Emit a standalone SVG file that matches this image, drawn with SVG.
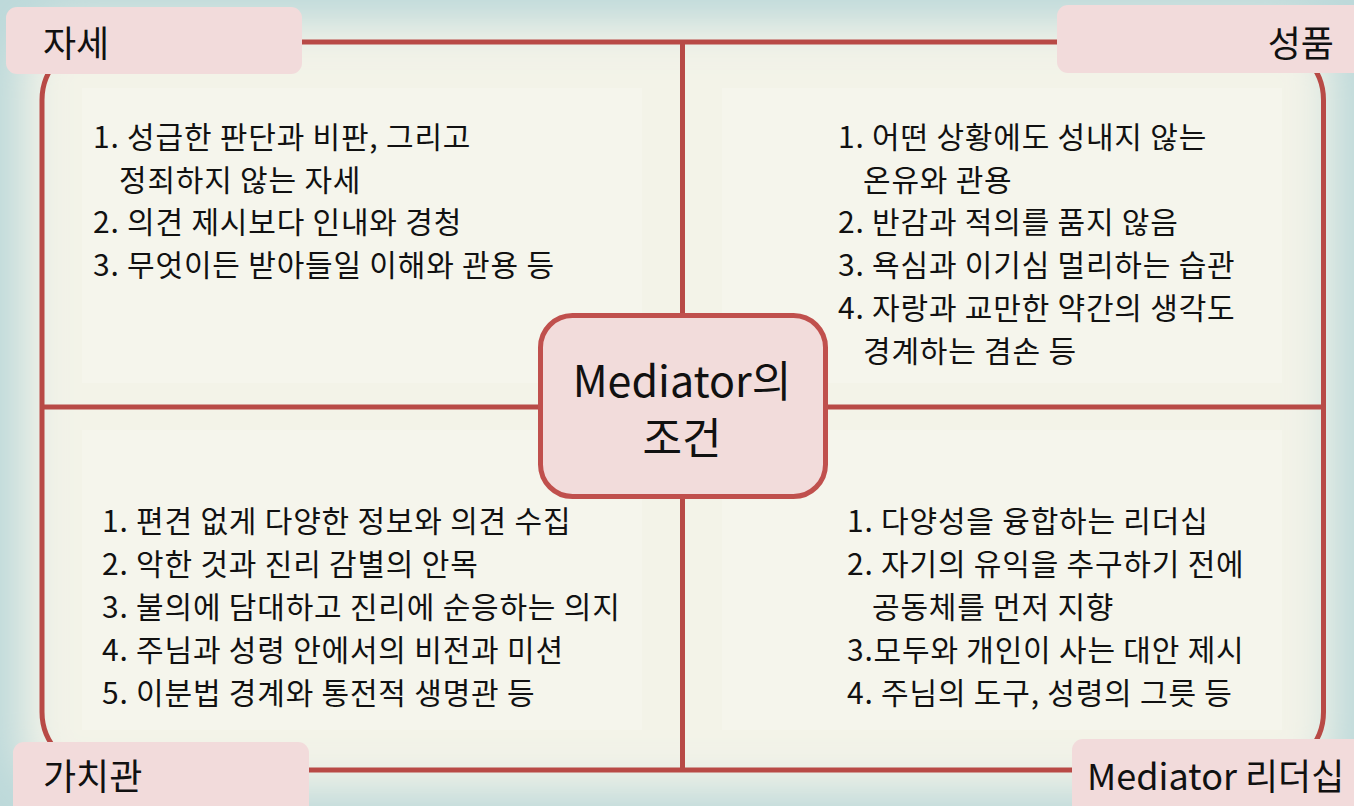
<svg xmlns="http://www.w3.org/2000/svg" width="1354" height="806" viewBox="0 0 1354 806">
<style>
.t{font-family:"Noto Sans CJK KR","Noto Sans",sans-serif;fill:#111;}
.body{font-size:30px;letter-spacing:0.8px;}
.lab{font-size:36px;}
.ctr{font-size:43px;}
.frame{fill:none;stroke:#b84a46;stroke-width:5;}
.labbox{fill:#f2dbdb;}
.panel{fill:#f5f5ec;}
</style>
<defs>
<filter id="blur" x="-10%" y="-10%" width="120%" height="120%"><feGaussianBlur stdDeviation="22"/></filter>
</defs>
<rect x="0" y="0" width="1354" height="806" fill="#bdd9da"/>
<rect x="22" y="22" width="1310" height="768" rx="50" fill="#f3f3e8" filter="url(#blur)"/>
<g id="panels">
<rect class="panel" x="82" y="88" width="560" height="295"/>
<rect class="panel" x="722" y="88" width="560" height="295"/>
<rect class="panel" x="82" y="430" width="560" height="300"/>
<rect class="panel" x="722" y="430" width="560" height="300"/>
</g>
<g id="connectors">
<rect class="frame" x="42" y="42" width="1281.5" height="728" rx="58"/>
<line class="frame" x1="682.5" y1="42" x2="682.5" y2="770"/>
<line class="frame" x1="42" y1="407" x2="1323.5" y2="407"/>
</g>
<g id="center">
<rect x="540.5" y="315.5" width="285" height="181" rx="32" fill="#f2dcdb" stroke="#c0504d" stroke-width="5"/>
<text class="t ctr" x="682" y="397" text-anchor="middle">Mediator의</text>
<text class="t ctr" x="682" y="454" text-anchor="middle">조건</text>
</g>
<g id="label-jase">
<rect class="labbox" x="6" y="7" width="296" height="67" rx="11"/>
<text class="t lab" x="43" y="57">자세</text>
</g>
<g id="label-seongpum">
<rect class="labbox" x="1057" y="5" width="310" height="68" rx="11"/>
<text class="t lab" x="1334" y="57" text-anchor="end">성품</text>
</g>
<g id="label-gachigwan">
<rect class="labbox" x="13" y="742" width="296" height="80" rx="11"/>
<text class="t lab" x="43" y="790">가치관</text>
</g>
<g id="label-leadership">
<rect class="labbox" x="1072" y="739" width="300" height="80" rx="11"/>
<text class="t lab" x="1087" y="790">Mediator 리더십</text>
</g>
<g id="text-jase" class="t body">
<text x="93" y="148">1. 성급한 판단과 비판, 그리고</text>
<text x="119" y="191">정죄하지 않는 자세</text>
<text x="93" y="233">2. 의견 제시보다 인내와 경청</text>
<text x="93" y="276">3. 무엇이든 받아들일 이해와 관용 등</text>
</g>
<g id="text-seongpum" class="t body">
<text x="838" y="148">1. 어떤 상황에도 성내지 않는</text>
<text x="863" y="191">온유와 관용</text>
<text x="838" y="233">2. 반감과 적의를 품지 않음</text>
<text x="838" y="276">3. 욕심과 이기심 멀리하는 습관</text>
<text x="838" y="319">4. 자랑과 교만한 약간의 생각도</text>
<text x="863" y="362">경계하는 겸손 등</text>
</g>
<g id="text-gachigwan" class="t body">
<text x="102" y="532">1. 편견 없게 다양한 정보와 의견 수집</text>
<text x="102" y="575">2. 악한 것과 진리 감별의 안목</text>
<text x="102" y="618">3. 불의에 담대하고 진리에 순응하는 의지</text>
<text x="102" y="661">4. 주님과 성령 안에서의 비전과 미션</text>
<text x="102" y="704">5. 이분법 경계와 통전적 생명관 등</text>
</g>
<g id="text-leadership" class="t body">
<text x="847" y="532">1. 다양성을 융합하는 리더십</text>
<text x="847" y="575">2. 자기의 유익을 추구하기 전에</text>
<text x="872" y="618">공동체를 먼저 지향</text>
<text x="847" y="661">3.모두와 개인이 사는 대안 제시</text>
<text x="847" y="704">4. 주님의 도구, 성령의 그릇 등</text>
</g>
</svg>
